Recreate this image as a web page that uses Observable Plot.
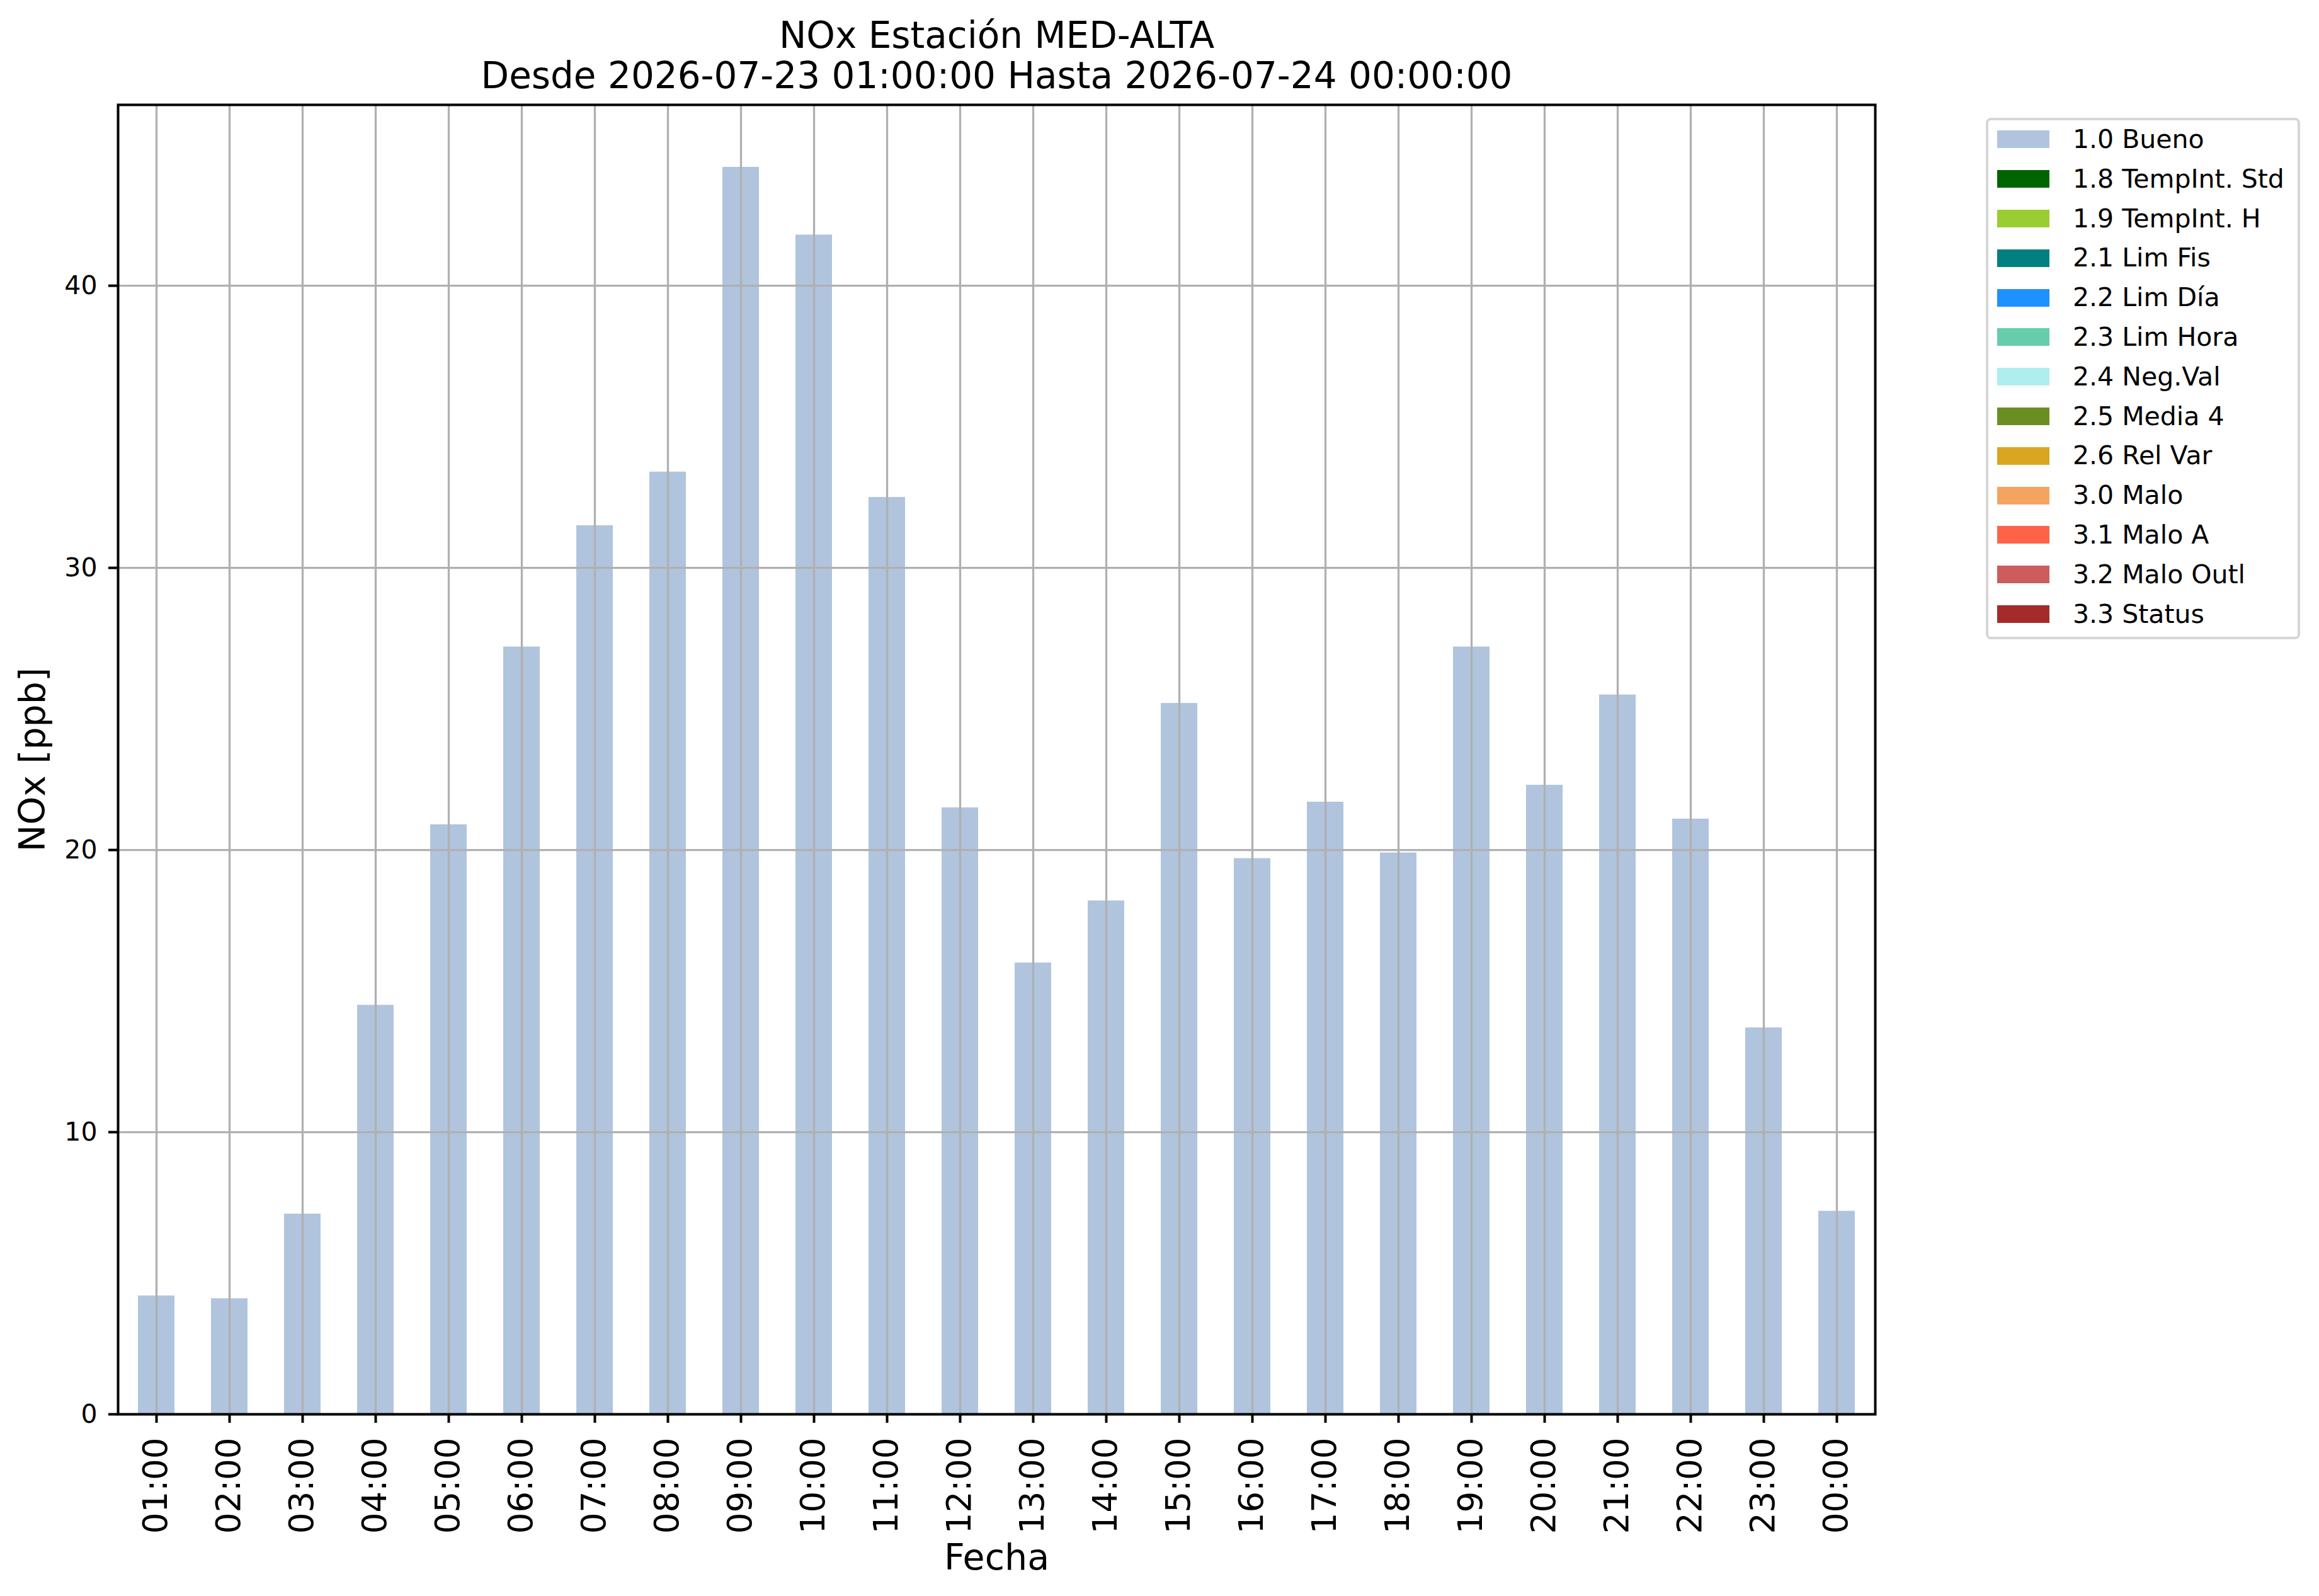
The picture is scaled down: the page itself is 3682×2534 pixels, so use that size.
<!DOCTYPE html>
<html>
<head>
<meta charset="utf-8">
<script src="https://cdn.jsdelivr.net/npm/d3@7"></script>
<script src="https://cdn.jsdelivr.net/npm/@observablehq/plot@0.6"></script>
<style>
  html, body { margin: 0; padding: 0; background: #ffffff; }
  #wrap { position: relative; width: 3682px; height: 2534px; background: #ffffff; font-family: "DejaVu Sans", sans-serif; }
  #legend { position: absolute; left: 3153px; top: 187px; width: 499px; height: 828px; box-sizing: border-box;
            border: 4px solid #d6d6d6; border-radius: 8px; background: #ffffff; }
  .sw { position: absolute; left: 14px; width: 83px; height: 28px; }
  .lt { position: absolute; left: 134px; font-size: 41px; line-height: 41px; color: #000; white-space: nowrap; }
</style>
</head>
<body>
<div id="wrap"><div id="chart"></div><div id="legend"></div></div>
<script>
// ---- data ----
const hours = ["01:00","02:00","03:00","04:00","05:00","06:00","07:00","08:00","09:00","10:00","11:00","12:00",
               "13:00","14:00","15:00","16:00","17:00","18:00","19:00","20:00","21:00","22:00","23:00","00:00"];
const nox = [4.2, 4.1, 7.1, 14.5, 20.9, 27.2, 31.5, 33.4, 44.2, 41.8, 32.5, 21.5,
             16.0, 18.2, 25.2, 19.7, 21.7, 19.9, 27.2, 22.3, 25.5, 21.1, 13.7, 7.2];
const yTicks = [0, 10, 20, 30, 40];
const legendLabels = ["1.0 Bueno","1.8 TempInt. Std","1.9 TempInt. H","2.1 Lim Fis","2.2 Lim Día","2.3 Lim Hora",
                      "2.4 Neg.Val","2.5 Media 4","2.6 Rel Var","3.0 Malo","3.1 Malo A","3.2 Malo Outl","3.3 Status"];
const legendColors = ["#b0c4de","#006400","#9acd32","#008080","#1e90ff","#66cdaa",
                      "#afeeee","#6b8e23","#daa520","#f4a460","#ff6347","#cd5c5c","#a52a2a"];
const titleLines = ["NOx Estación MED-ALTA", "Desde 2026-07-23 01:00:00 Hasta 2026-07-24 00:00:00"];
const yLabel = "NOx [ppb]";
const xLabel = "Fecha";

const data = hours.map((h, i) => ({hour: h, value: nox[i]}));
const ymax = d3.max(nox) * 1.05;

const chart = Plot.plot({
  width: 3682,
  height: 2534,
  marginLeft: 187,
  marginRight: 705,
  marginTop: 166,
  marginBottom: 289,
  style: {fontFamily: "DejaVu Sans", background: "#ffffff", color: "#000000", overflow: "visible"},
  x: {type: "band", domain: hours, paddingInner: 0.5, paddingOuter: 0.25, align: 0.5},
  y: {domain: [0, ymax]},
  marks: [
    Plot.barY(data, {x: "hour", y: "value", fill: "#b0c4de"}),
    Plot.ruleX(hours, {x: d => d, stroke: "#b0b0b0", strokeWidth: 3.3}),
    Plot.ruleY(yTicks, {y: d => d, stroke: "#b0b0b0", strokeWidth: 3.3}),
    Plot.frame({stroke: "#000000", strokeWidth: 4}),
    Plot.axisX({tickSize: 14, tickPadding: 23, tickRotate: -90, fontSize: 53, strokeWidth: 4, label: null}),
    Plot.axisY({ticks: yTicks, tickSize: 15, tickPadding: 18, fontSize: 41, strokeWidth: 4, label: null, tickFormat: d => String(d)}),
    Plot.text([titleLines[0]], {text: d => d, frameAnchor: "top", lineAnchor: "middle", textAnchor: "middle", dy: -108.6, fontSize: 58}),
    Plot.text([titleLines[1]], {text: d => d, frameAnchor: "top", lineAnchor: "middle", textAnchor: "middle", dy: -44.6, fontSize: 58}),
    Plot.text([yLabel], {text: d => d, frameAnchor: "left", lineAnchor: "middle", textAnchor: "middle", rotate: -90, dx: -135, fontSize: 57}),
    Plot.text([xLabel], {text: d => d, frameAnchor: "bottom", lineAnchor: "middle", textAnchor: "middle", dy: 228, fontSize: 57})
  ]
});
document.getElementById("chart").appendChild(chart);

// ---- legend ----
const legend = d3.select("#legend");
legendLabels.forEach((lab, i) => {
  const top = 16.3 + i * 62.8;
  legend.append("div").attr("class", "sw").style("top", top + "px").style("background", legendColors[i]);
  legend.append("div").attr("class", "lt").style("top", (top + 28.4 - 34.7) + "px").text(lab);
});
</script>
</body>
</html>
